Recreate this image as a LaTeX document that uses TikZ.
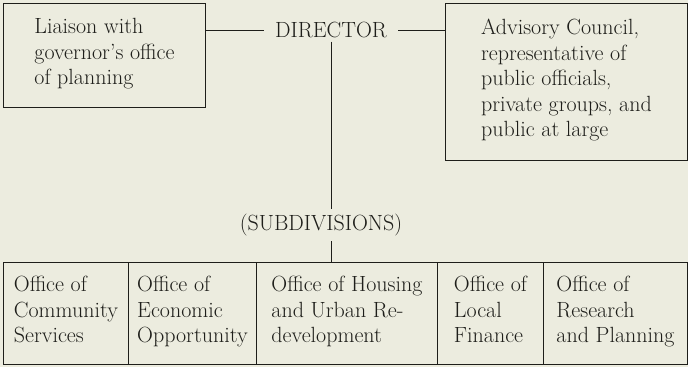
\documentclass[tikz,border=0pt]{standalone}
\usepackage{tikz}
\definecolor{paper}{RGB}{236,236,223}
\definecolor{ink}{RGB}{30,30,26}

\begin{document}
\begin{tikzpicture}[x=1pt,y=-1pt,line width=0.9pt,
  every node/.style={font=\fontsize{22}{25.5}\selectfont,text=ink},
  box/.style={draw=ink,anchor=north west,align=left,inner sep=0pt,
    execute at begin node=\strut,execute at end node=\strut}]
%
\fill[paper] (0,0) rectangle (688,367);
\useasboundingbox (0,0) rectangle (688,367);
%
\node (liaison) at (3,3) [box,minimum width=202pt,minimum height=104pt]
  {Liaison with\\governor's office\\of planning};
\node (advisory) at (445,3) [box,minimum width=242pt,minimum height=157pt]
  {Advisory Council,\\representative of\\public officials,\\private groups, and\\public at large};
%
\node (dir) at (331,30) [inner xsep=11pt] {DIRECTOR};
\node (sub) at (321,225) [inner ysep=5pt] {(SUBDIVISIONS)};
%
\node (comm) at (3,262) [box,minimum width=125pt,minimum height=102pt]
  {Office of\\Community\\Services};
\node (econ) at (128,262) [box,minimum width=128pt,minimum height=102pt]
  {Office of\\Economic\\Opportunity};
\node (housing) at (256,262) [box,minimum width=181pt,minimum height=102pt]
  {Office of Housing\\and Urban Re-\\development};
\node (finance) at (437,262) [box,minimum width=106pt,minimum height=102pt]
  {Office of\\Local\\Finance};
\node (research) at (543,262) [box,minimum width=144pt,minimum height=102pt]
  {Office of\\Research\\and Planning};
%%
\draw[ink] (dir.west) -- (dir.west -| liaison.east);
\draw[ink] (dir.east) -- (dir.east -| advisory.west);
%
\draw[ink] (dir.south) -- (sub.north -| dir.south);
\draw[ink] (sub.south -| dir.south) -- (housing.north -| dir.south);
\end{tikzpicture}
\end{document}
